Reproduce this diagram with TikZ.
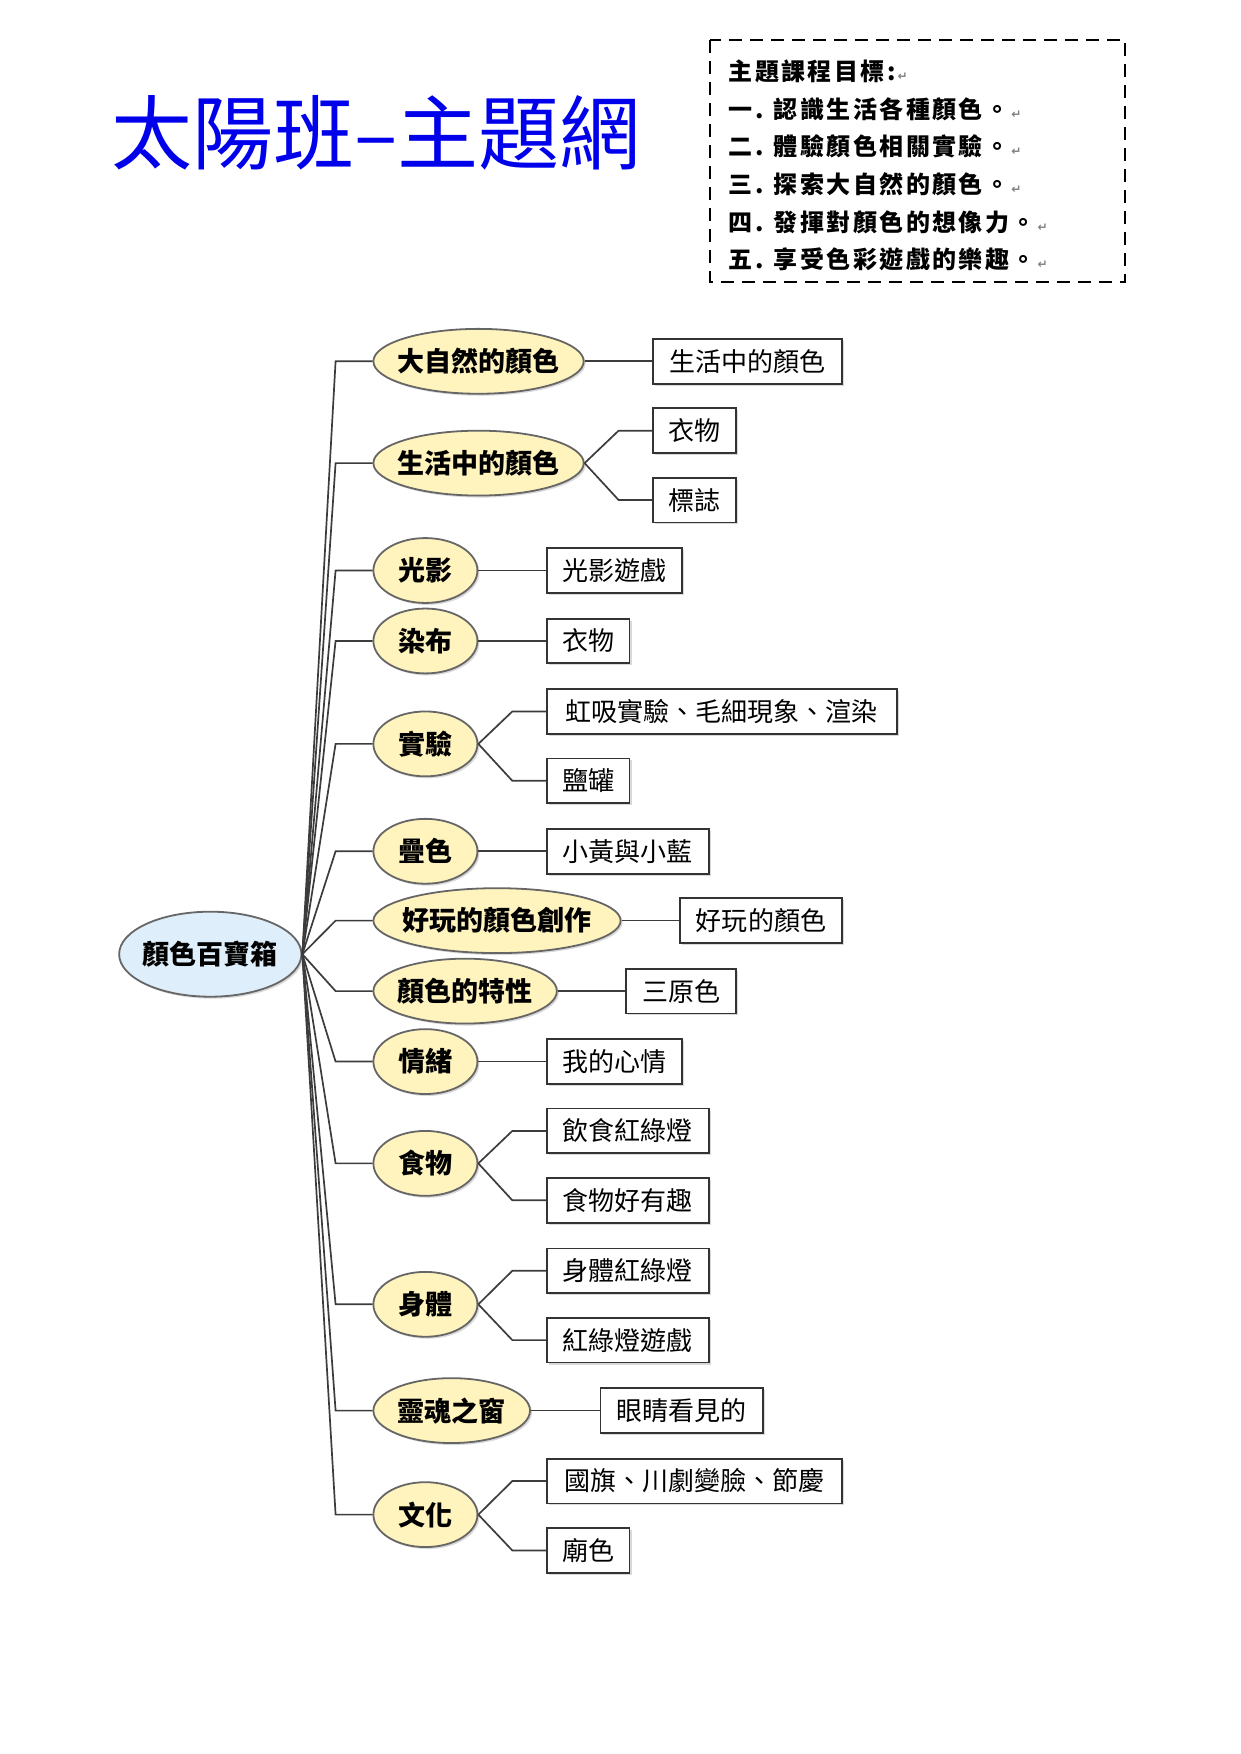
\documentclass[tikz,border=0pt]{standalone}
\usepackage{fontspec}
\setmainfont{Noto Sans CJK TC}
\newfontfamily\goalfont{Noto Sans CJK TC}[LetterSpace=10]
\newfontfamily\symfont{DejaVu Sans}
\usetikzlibrary{shapes.geometric,shadows}
\definecolor{ellfill}{RGB}{255,243,190}
\definecolor{rootfill}{RGB}{222,238,250}
\definecolor{linec}{RGB}{60,60,60}
\definecolor{titleblue}{RGB}{0,0,235}
\def\ux{0.559pt}
\newcommand{\pmark}{{\symfont\fontsize{6}{6}\selectfont\color{gray}\,↵}}
\begin{document}
\begin{tikzpicture}[x=0.559pt,y=-0.559pt,
  ell/.style={ellipse, draw=black!60, fill=ellfill, line width=0.9pt, inner ysep=0pt, inner xsep=-10pt,
    minimum height=58*\ux, anchor=west,
    drop shadow={shadow xshift=1pt, shadow yshift=-1pt, fill=black!25, opacity=0.6},
    font=\bfseries\fontsize{13.5}{14}\selectfont},
  leaf/.style={rectangle, draw=black!80, fill=white, line width=0.9pt, inner sep=0pt,
    minimum height=40*\ux, anchor=west,
    drop shadow={shadow xshift=1pt, shadow yshift=-1pt, fill=black!25, opacity=0.6},
    font=\fontsize{13}{14}\selectfont},
  conn/.style={draw=linec, line width=0.85pt},
  goal/.style={anchor=west, inner sep=0pt, font=\goalfont\bfseries\fontsize{12}{13}\selectfont}]
\useasboundingbox (0,0) rectangle (1109,1568);

% title
\node[text=titleblue, font=\fontsize{40.5}{42}\selectfont, inner sep=0pt] (title) at (336,119) {太陽班–主題網};

% goals box
\draw[line width=1.1pt, dash pattern=on 6.5pt off 4pt] (635,36) rectangle (1006,252);
\node[goal] (g0) at (651,64) {主題課程目標:\pmark};
\node[goal] (g1) at (651,98) {一. 認識生活各種顏色。\pmark};
\node[goal] (g2) at (651,131) {二. 體驗顏色相關實驗。\pmark};
\node[goal] (g3) at (651,165) {三. 探索大自然的顏色。\pmark};
\node[goal] (g4) at (651,199) {四. 發揮對顏色的想像力。\pmark};
\node[goal] (g5) at (651,232) {五. 享受色彩遊戲的樂趣。\pmark};

% root
\node[ellipse, draw=black!60, fill=rootfill, line width=0.9pt, inner ysep=0pt, inner xsep=-10pt,
  minimum width=163*\ux, minimum height=76*\ux,
  drop shadow={shadow xshift=1pt, shadow yshift=-1pt, fill=black!25, opacity=0.6},
  font=\bfseries\fontsize{13.5}{14}\selectfont] (root) at (188,853) {顏色百寶箱};

% level 1
\node[ell, minimum width=188*\ux] (e1) at (333,323) {大自然的顏色};
\node[ell, minimum width=188*\ux] (e2) at (333,414) {生活中的顏色};
\node[ell, minimum width=93*\ux] (e3) at (333,510) {光影};
\node[ell, minimum width=93*\ux] (e4) at (333,573) {染布};
\node[ell, minimum width=93*\ux] (e5) at (333,665) {實驗};
\node[ell, minimum width=93*\ux] (e6) at (333,761) {疊色};
\node[ell, minimum width=221*\ux] (e7) at (333,823) {好玩的顏色創作};
\node[ell, minimum width=164*\ux] (e8) at (333,886) {顏色的特性};
\node[ell, minimum width=93*\ux] (e9) at (333,949) {情緒};
\node[ell, minimum width=93*\ux] (e10) at (333,1040) {食物};
\node[ell, minimum width=93*\ux] (e11) at (333,1166) {身體};
\node[ell, minimum width=140*\ux] (e12) at (333,1261) {靈魂之窗};
\node[ell, minimum width=93*\ux] (e13) at (333,1354) {文化};

% level 2
\node[leaf, minimum width=169*\ux] (b1) at (583,323) {生活中的顏色};
\node[leaf, minimum width=74*\ux] (b2a) at (583,385) {衣物};
\node[leaf, minimum width=74*\ux] (b2b) at (583,447) {標誌};
\node[leaf, minimum width=121*\ux] (b3) at (488,510) {光影遊戲};
\node[leaf, minimum width=74*\ux] (b4) at (488,573) {衣物};
\node[leaf, minimum width=313*\ux] (b5a) at (488,636) {虹吸實驗、毛細現象、渲染};
\node[leaf, minimum width=74*\ux] (b5b) at (488,698) {鹽罐};
\node[leaf, minimum width=145*\ux] (b6) at (488,761) {小黃與小藍};
\node[leaf, minimum width=145*\ux] (b7) at (607,823) {好玩的顏色};
\node[leaf, minimum width=98*\ux] (b8) at (559,886) {三原色};
\node[leaf, minimum width=121*\ux] (b9) at (488,949) {我的心情};
\node[leaf, minimum width=145*\ux] (b10a) at (488,1011) {飲食紅綠燈};
\node[leaf, minimum width=145*\ux] (b10b) at (488,1073) {食物好有趣};
\node[leaf, minimum width=145*\ux] (b11a) at (488,1136) {身體紅綠燈};
\node[leaf, minimum width=145*\ux] (b11b) at (488,1198) {紅綠燈遊戲};
\node[leaf, minimum width=145*\ux] (b12) at (536,1261) {眼睛看見的};
\node[leaf, minimum width=264*\ux] (b13a) at (488,1324) {國旗、川劇變臉、節慶};
\node[leaf, minimum width=74*\ux] (b13b) at (488,1386) {廟色};

% root to level 1
\foreach \e in {e1,e2,e3,e4,e5,e6,e7,e8,e9,e10,e11,e12,e13}{
  \draw[conn] (root.east) -- (300,0 |- \e.west) -- (\e.west);
}

% level 1 to level 2
\foreach \e/\b in {e1/b1,e2/b2a,e2/b2b,e3/b3,e4/b4,e5/b5a,e5/b5b,e6/b6,e7/b7,e8/b8,e9/b9,e10/b10a,e10/b10b,e11/b11a,e11/b11b,e12/b12,e13/b13a,e13/b13b}{
  \draw[conn] (\e.east) -- ([xshift=-30*\ux]\b.west) -- (\b.west);
}
\end{tikzpicture}
\end{document}
